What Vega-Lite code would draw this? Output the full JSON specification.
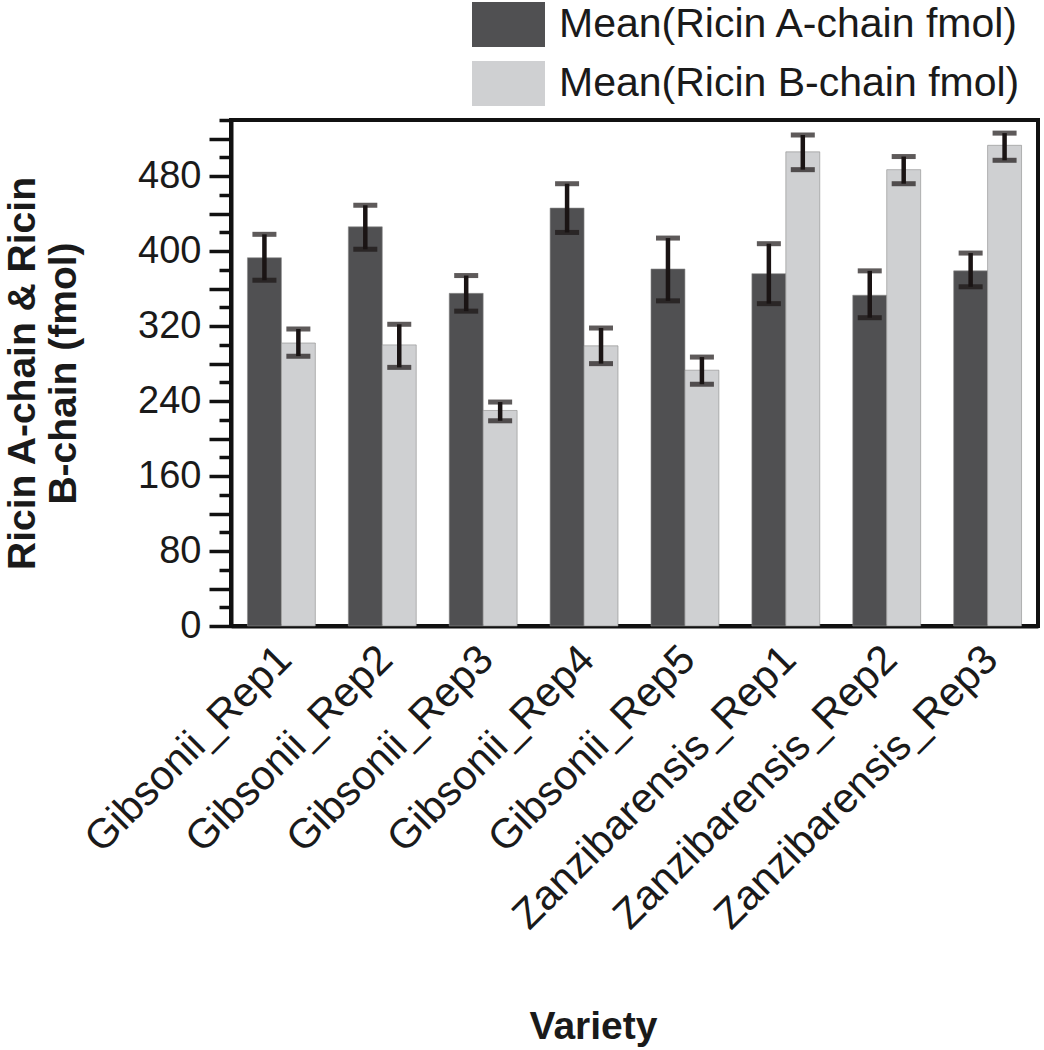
{
  "$schema": "https://vega.github.io/schema/vega-lite/v6.json",
  "autosize": {"type": "none"},
  "padding": {"left": 231, "top": 120, "right": 6, "bottom": 424},
  "width": 807,
  "height": 506,
  "background": "white",
  "config": {
    "font": "Liberation Sans",
    "view": {"stroke": "#111111", "strokeWidth": 4},
    "axis": {"domainColor": "#111111", "domainWidth": 4, "grid": false, "labelColor": "#1a1a1a", "titleColor": "#1a1a1a", "labelFont": "Liberation Sans", "titleFont": "Liberation Sans", "labelLimit": 0}
  },
  "data": {
    "values": [
      {"variety": "Gibsonii_Rep1", "chain": "Mean(Ricin A-chain fmol)", "mean": 393, "lo": 369, "hi": 418},
      {"variety": "Gibsonii_Rep1", "chain": "Mean(Ricin B-chain fmol)", "mean": 302, "lo": 288, "hi": 317},
      {"variety": "Gibsonii_Rep2", "chain": "Mean(Ricin A-chain fmol)", "mean": 426, "lo": 402, "hi": 449},
      {"variety": "Gibsonii_Rep2", "chain": "Mean(Ricin B-chain fmol)", "mean": 300, "lo": 276, "hi": 322},
      {"variety": "Gibsonii_Rep3", "chain": "Mean(Ricin A-chain fmol)", "mean": 355, "lo": 336, "hi": 374},
      {"variety": "Gibsonii_Rep3", "chain": "Mean(Ricin B-chain fmol)", "mean": 230, "lo": 219, "hi": 239},
      {"variety": "Gibsonii_Rep4", "chain": "Mean(Ricin A-chain fmol)", "mean": 446, "lo": 420, "hi": 472},
      {"variety": "Gibsonii_Rep4", "chain": "Mean(Ricin B-chain fmol)", "mean": 299, "lo": 280, "hi": 318},
      {"variety": "Gibsonii_Rep5", "chain": "Mean(Ricin A-chain fmol)", "mean": 381, "lo": 347, "hi": 414},
      {"variety": "Gibsonii_Rep5", "chain": "Mean(Ricin B-chain fmol)", "mean": 273, "lo": 258, "hi": 287},
      {"variety": "Zanzibarensis_Rep1", "chain": "Mean(Ricin A-chain fmol)", "mean": 376, "lo": 344, "hi": 408},
      {"variety": "Zanzibarensis_Rep1", "chain": "Mean(Ricin B-chain fmol)", "mean": 506, "lo": 487, "hi": 524},
      {"variety": "Zanzibarensis_Rep2", "chain": "Mean(Ricin A-chain fmol)", "mean": 353, "lo": 329, "hi": 379},
      {"variety": "Zanzibarensis_Rep2", "chain": "Mean(Ricin B-chain fmol)", "mean": 487, "lo": 472, "hi": 501},
      {"variety": "Zanzibarensis_Rep3", "chain": "Mean(Ricin A-chain fmol)", "mean": 379, "lo": 362, "hi": 398},
      {"variety": "Zanzibarensis_Rep3", "chain": "Mean(Ricin B-chain fmol)", "mean": 513, "lo": 497, "hi": 526}
    ]
  },
  "encoding": {
    "x": {
      "field": "variety", "type": "nominal", "sort": null,
      "scale": {"paddingInner": 0.327, "paddingOuter": 0.163},
      "axis": {
        "title": "Variety", "titleFontSize": 39, "titleFontWeight": "bold",
        "titleX": 362, "titleY": 412, "titleAlign": "center", "titleBaseline": "alphabetic",
        "labelAngle": -45, "labelAlign": "right", "labelBaseline": "middle",
        "labelFontSize": 41.5, "labelPadding": 27, "labelOffset": 4, "ticks": false, "labelLimit": 0
      }
    },
    "xOffset": {"field": "chain", "type": "nominal", "scale": {"paddingInner": 0, "paddingOuter": 0}}
  },
  "resolve": {"axis": {"y": "independent"}},
  "layer": [
    {
      "mark": {"type": "bar", "stroke": "#8a8a8a", "strokeWidth": 0.6},
      "encoding": {
        "y": {
          "field": "mean", "type": "quantitative",
          "scale": {"domain": [0, 540], "nice": false, "zero": true},
          "axis": {
            "orient": "left",
            "title": ["Ricin A-chain & Ricin", "B-chain (fmol)"],
            "titleFontSize": 39, "titleFontWeight": "bold", "titleLineHeight": 41,
            "titleX": -209, "titleY": 253, "titleAngle": -90, "titleAlign": "center", "titleBaseline": "middle",
            "values": [0, 40, 80, 120, 160, 200, 240, 280, 320, 360, 400, 440, 480, 520],
            "labelExpr": "datum.value % 80 === 0 ? datum.label : ''",
            "labelFontSize": 38, "labelPadding": 8, "labelBaseline": "middle",
            "ticks": true, "tickColor": "#111111", "tickWidth": 3.5, "tickSize": 22
          }
        },
        "color": {
          "field": "chain", "type": "nominal",
          "scale": {"domain": ["Mean(Ricin A-chain fmol)", "Mean(Ricin B-chain fmol)"], "range": ["#505052", "#cfd0d2"]},
          "legend": {
            "title": null, "orient": "none", "legendX": 241, "legendY": -132,
            "symbolType": "M-1,-0.616H1V0.616H-1Z", "symbolSize": 5329, "symbolStrokeWidth": 0,
            "labelFontSize": 41, "labelColor": "#1a1a1a", "labelOffset": 14, "rowPadding": -13, "padding": 0,
            "labelFont": "Liberation Sans", "labelLimit": 0
          }
        }
      }
    },
    {
      "mark": {"type": "rule", "color": "#1a1414", "strokeWidth": 4.5},
      "encoding": {
        "y": {
          "field": "lo", "type": "quantitative",
          "axis": {
            "orient": "left", "title": null, "labels": false, "domain": false,
            "values": [20, 60, 100, 140, 180, 220, 260, 300, 340, 380, 420, 460, 500, 540],
            "ticks": true, "tickColor": "#111111", "tickWidth": 3.5, "tickSize": 12
          }
        },
        "y2": {"field": "hi"}
      }
    },
    {
      "mark": {"type": "tick", "color": "#1a1414", "orient": "horizontal", "size": 24, "thickness": 5},
      "encoding": {"y": {"field": "lo", "type": "quantitative", "axis": null}}
    },
    {
      "mark": {"type": "tick", "color": "#1a1414", "orient": "horizontal", "size": 24, "thickness": 5},
      "encoding": {"y": {"field": "hi", "type": "quantitative", "axis": null}}
    }
  ]
}
